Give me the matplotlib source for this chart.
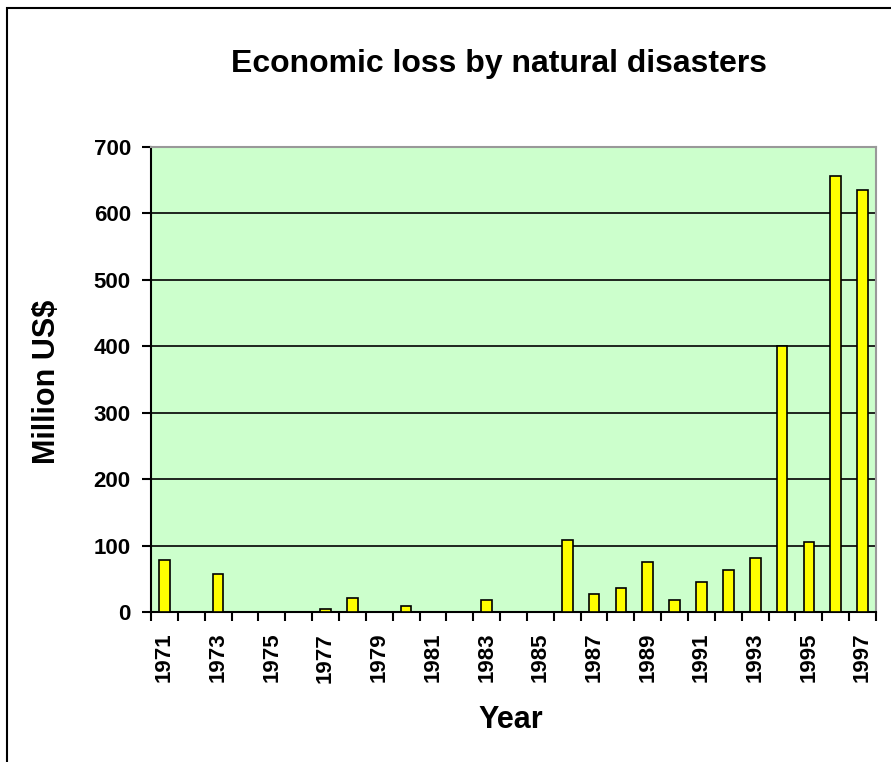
import matplotlib
matplotlib.use("Agg")
import matplotlib.pyplot as plt
import numpy as np
from matplotlib.patches import Rectangle

years = list(range(1971, 1998))
losses = [78, 0, 57, 0, 0, 0, 5, 21, 0, 9, 0, 0, 18, 0, 0, 108, 27, 36, 75, 18,
          45, 63, 81, 400, 105, 657, 635]
yticks = [0, 100, 200, 300, 400, 500, 600, 700]

plt.rcParams['font.family'] = ['Liberation Sans', 'DejaVu Sans']

fig = plt.figure(figsize=(8.91, 7.62), dpi=100)
fig.patches.append(Rectangle((7/891, -0.05), 1.0, 1.05 - 8/762, transform=fig.transFigure,
                             fill=False, edgecolor='black', linewidth=1.5))

ax = fig.add_axes([151/891, 1 - 612/762, (876 - 151)/891, (612 - 147)/762])
ax.set_facecolor('#CCFFCC')
x = np.arange(len(years))
ax.bar(x + 0.5, losses, width=0.4, color='#FFFF00', edgecolor='black', linewidth=1.2, zorder=3)
ax.set_xlim(0, len(years))
ax.set_ylim(0, 700)
ax.set_yticks(yticks)
ax.set_yticklabels([str(v) for v in yticks], fontsize=16, fontweight='bold')
ax.yaxis.grid(True, color='black', linewidth=1.2, zorder=1)
ax.set_axisbelow(True)

ax.set_xticks(np.arange(len(years) + 1))
ax.set_xticklabels([])
ax.set_xticks(x[::2] + 0.5, minor=True)
ax.set_xticklabels([str(y) for y in years[::2]], minor=True, rotation=90,
                   fontsize=16, fontweight='bold')
ax.tick_params(axis='x', which='major', direction='out', length=6.5, width=1.5)
ax.tick_params(axis='x', which='minor', length=0, pad=15)
ax.tick_params(axis='y', direction='out', length=6.5, width=1.5, pad=8)

for s in ['left', 'bottom']:
    ax.spines[s].set_color('black')
    ax.spines[s].set_linewidth(1.5)
for s in ['top', 'right']:
    ax.spines[s].set_color('#999999')
    ax.spines[s].set_linewidth(1.5)

fig.text(499/891, 1 - 64/762, 'Economic loss by natural disasters', ha='center', va='center',
         fontsize=23, fontweight='bold')
fig.text(47/891, 1 - 382/762, 'Million US$', ha='center', va='center', rotation=90,
         fontsize=22, fontweight='bold')
fig.text(511/891, 1 - 720/762, 'Year', ha='center', va='center', fontsize=22, fontweight='bold')

fig.savefig('out.png', dpi=100)
